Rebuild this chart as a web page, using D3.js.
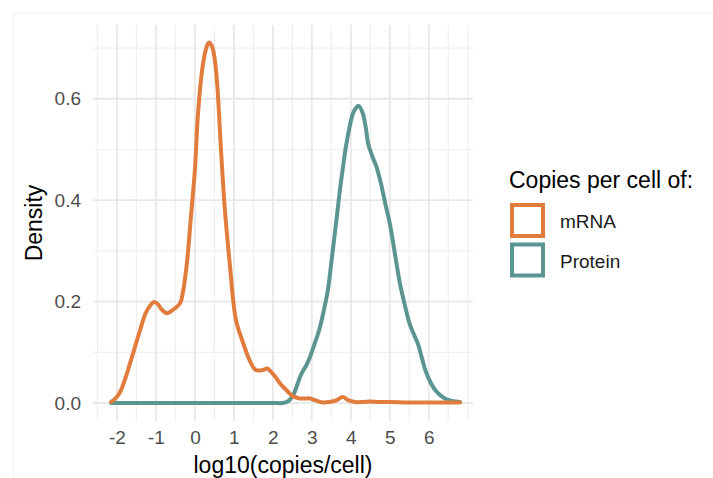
<!DOCTYPE html>
<html>
<head>
<meta charset="utf-8">
<script src="https://cdn.jsdelivr.net/npm/d3@7"></script>
<style>
  html, body { margin: 0; padding: 0; background: #fff; }
  svg { display: block; font-family: "Liberation Sans", Arial, sans-serif; }
</style>
</head>
<body>
<svg id="chart" width="713" height="478"></svg>
<script>
// Kernel density of log10 copies per cell, mRNA vs protein
const seriesNames = ["mRNA", "Protein"];
const seriesColors = ["#E27C3D", "#5B9591"];

const mrnaX = [-2.15, -2.05, -1.93, -1.8, -1.67, -1.54, -1.41, -1.26, -1.15, -1.05, -0.95, -0.87, -0.72, -0.6, -0.51, -0.38, -0.3, -0.2, -0.1, 0.0, 0.08, 0.21, 0.3, 0.36, 0.44, 0.51, 0.58, 0.64, 0.7, 0.77, 0.9, 1.05, 1.23, 1.41, 1.56, 1.74, 1.85, 1.95, 2.08, 2.2, 2.33, 2.44, 2.55, 2.69, 2.85, 2.95, 3.1, 3.28, 3.45, 3.62, 3.79, 3.95, 4.1, 4.3, 4.5, 4.7, 5.0, 5.5, 6.0, 6.5, 6.8];
const mrnaY = [0.002, 0.008, 0.02, 0.045, 0.077, 0.11, 0.143, 0.178, 0.192, 0.199, 0.195, 0.186, 0.177, 0.182, 0.187, 0.197, 0.222, 0.28, 0.37, 0.46, 0.572, 0.67, 0.702, 0.711, 0.703, 0.677, 0.62, 0.539, 0.46, 0.38, 0.27, 0.165, 0.12, 0.083, 0.065, 0.065, 0.068, 0.062, 0.05, 0.037, 0.027, 0.018, 0.012, 0.009, 0.009, 0.009, 0.005, 0.001, 0.002, 0.005, 0.012, 0.005, 0.002, 0.002, 0.003, 0.002, 0.002, 0.001, 0.001, 0.001, 0.001];

const protX = [-2.15, -1.0, 0.0, 1.0, 2.0, 2.25, 2.38, 2.51, 2.6, 2.69, 2.77, 2.85, 2.95, 3.05, 3.2, 3.3, 3.41, 3.52, 3.62, 3.72, 3.79, 3.88, 3.97, 4.05, 4.1, 4.2, 4.3, 4.38, 4.45, 4.56, 4.66, 4.77, 4.88, 5.0, 5.13, 5.26, 5.38, 5.51, 5.62, 5.72, 5.82, 5.92, 6.05, 6.18, 6.3, 6.44, 6.6, 6.8];
const protY = [0.0, 0.0, 0.0, 0.0, 0.0, 0.0, 0.003, 0.014, 0.03, 0.05, 0.063, 0.073, 0.09, 0.112, 0.147, 0.18, 0.222, 0.29, 0.354, 0.42, 0.46, 0.508, 0.545, 0.57, 0.578, 0.586, 0.573, 0.545, 0.51, 0.485, 0.465, 0.434, 0.395, 0.354, 0.295, 0.236, 0.195, 0.156, 0.135, 0.117, 0.09, 0.063, 0.04, 0.024, 0.015, 0.008, 0.004, 0.002];

const xTicks = [-2, -1, 0, 1, 2, 3, 4, 5, 6];
const yTicks = [0.0, 0.2, 0.4, 0.6];
const xTitle = "log10(copies/cell)";
const yTitle = "Density";
const legendTitle = "Copies per cell of:";

const svg = d3.select("#chart");

// faint outer frame
svg.append("rect")
  .attr("x", 13.5).attr("y", 13.5).attr("width", 712).attr("height", 470)
  .attr("fill", "none").attr("stroke", "#f3f3f3").attr("stroke-width", 1);

const panel = { left: 93, right: 473, top: 25, bottom: 421 };

const x = d3.scaleLinear().domain([-2.615, 7.135]).range([panel.left, panel.right]);
const y = d3.scaleLinear().domain([-0.0355, 0.7455]).range([panel.bottom, panel.top]);

// grid: minor lines at half steps, major at labelled values
const xMinor = d3.range(-2.5, 7.01, 0.5).filter(v => !xTicks.includes(v));
const yMinor = [0.1, 0.3, 0.5, 0.7];
const grid = svg.append("g");
grid.selectAll(".vx-minor").data(xMinor).join("line")
  .attr("x1", d => x(d)).attr("x2", d => x(d))
  .attr("y1", panel.top).attr("y2", panel.bottom)
  .attr("stroke", "#efefef").attr("stroke-width", 1.2);
grid.selectAll(".hy-minor").data(yMinor).join("line")
  .attr("x1", panel.left).attr("x2", panel.right)
  .attr("y1", d => y(d)).attr("y2", d => y(d))
  .attr("stroke", "#efefef").attr("stroke-width", 1.2);
grid.selectAll(".vx-major").data(xTicks).join("line")
  .attr("x1", d => x(d)).attr("x2", d => x(d))
  .attr("y1", panel.top).attr("y2", panel.bottom)
  .attr("stroke", "#e8e8e8").attr("stroke-width", 1.8);
grid.selectAll(".hy-major").data(yTicks).join("line")
  .attr("x1", panel.left).attr("x2", panel.right)
  .attr("y1", d => y(d)).attr("y2", d => y(d))
  .attr("stroke", "#e8e8e8").attr("stroke-width", 1.8);

// axes (labels only, no lines or ticks)
const xAxis = svg.append("g")
  .attr("transform", `translate(0,${panel.bottom})`)
  .call(d3.axisBottom(x).tickValues(xTicks).tickSize(0).tickPadding(10).tickFormat(d => String(d)));
xAxis.select(".domain").remove();
xAxis.selectAll("text")
  .attr("font-family", "Liberation Sans, Arial, sans-serif")
  .attr("font-size", 19).attr("fill", "#4d4d4d");

const yAxis = svg.append("g")
  .attr("transform", `translate(${panel.left},0)`)
  .call(d3.axisLeft(y).tickValues(yTicks).tickSize(0).tickPadding(12).tickFormat(d => d.toFixed(1)));
yAxis.select(".domain").remove();
yAxis.selectAll("text")
  .attr("font-family", "Liberation Sans, Arial, sans-serif")
  .attr("font-size", 19).attr("fill", "#4d4d4d");

// density curves
const line = d3.line()
  .x(d => x(d[0])).y(d => y(d[1]))
  .curve(d3.curveCatmullRom.alpha(0.5));

const curves = [
  d3.zip(mrnaX, mrnaY),
  d3.zip(protX, protY)
];

svg.append("path")
  .datum(curves[1])
  .attr("d", line)
  .attr("fill", "none").attr("stroke", seriesColors[1])
  .attr("stroke-width", 4).attr("stroke-linejoin", "round").attr("stroke-linecap", "round");
svg.append("path")
  .datum(curves[0])
  .attr("d", line)
  .attr("fill", "none").attr("stroke", seriesColors[0])
  .attr("stroke-width", 4).attr("stroke-linejoin", "round").attr("stroke-linecap", "round");

// axis titles
svg.append("text")
  .attr("x", (panel.left + panel.right) / 2).attr("y", 473)
  .attr("text-anchor", "middle").attr("font-size", 23).attr("fill", "#000")
  .text(xTitle);
svg.append("text")
  .attr("transform", `translate(42,${(panel.top + panel.bottom) / 2}) rotate(-90)`)
  .attr("text-anchor", "middle").attr("font-size", 23).attr("fill", "#000")
  .text(yTitle);

// legend
const legend = svg.append("g");
legend.append("text")
  .attr("x", 509).attr("y", 188)
  .attr("font-size", 23).attr("fill", "#000")
  .text(legendTitle);
const item = legend.selectAll(".item").data(seriesNames).join("g")
  .attr("transform", (d, i) => `translate(510,${203 + i * 39.5})`);
item.append("rect")
  .attr("x", 2).attr("y", 2).attr("width", 31).attr("height", 31)
  .attr("fill", "#fff")
  .attr("stroke", (d, i) => seriesColors[i]).attr("stroke-width", 4);
item.append("text")
  .attr("x", 50).attr("y", 25)
  .attr("font-size", 19).attr("fill", "#1a1a1a")
  .text(d => d);
</script>
</body>
</html>
